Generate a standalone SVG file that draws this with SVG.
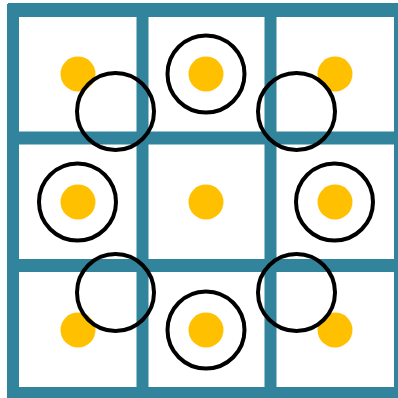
<svg xmlns="http://www.w3.org/2000/svg" width="398" height="398" viewBox="0 0 398 398">
<style>
.grid{stroke:#31849B;stroke-width:12;fill:none;stroke-linecap:butt}
.dot{fill:#FFC000}
.ring{fill:none;stroke:#000;stroke-width:4}
</style>
<rect x="0" y="0" width="398" height="398" fill="#fff"/>
<g id="grid" class="grid">
<line x1="13" y1="4" x2="13" y2="399"/>
<line x1="142.5" y1="4" x2="142.5" y2="399"/>
<line x1="270.5" y1="4" x2="270.5" y2="399"/>
<line x1="400" y1="3" x2="400" y2="399"/>
<line x1="8" y1="10" x2="400" y2="10" stroke-width="14"/>
<line x1="7" y1="138" x2="400" y2="138" stroke-width="13"/>
<line x1="7" y1="265.5" x2="400" y2="265.5" stroke-width="13"/>
<line x1="7" y1="393" x2="400" y2="393"/>
</g>
<g id="dots">
<circle class="dot" cx="78" cy="74" r="17.5"/>
<circle class="dot" cx="206" cy="74" r="17.5"/>
<circle class="dot" cx="335" cy="74" r="17.5"/>
<circle class="dot" cx="78" cy="202" r="17.5"/>
<circle class="dot" cx="206" cy="202" r="17.5"/>
<circle class="dot" cx="335" cy="202" r="17.5"/>
<circle class="dot" cx="78" cy="330" r="17.5"/>
<circle class="dot" cx="206" cy="330" r="17.5"/>
<circle class="dot" cx="335" cy="330" r="17.5"/>
</g>
<g id="rings">
<circle class="ring" cx="206" cy="74" r="38.5"/>
<circle class="ring" cx="296.5" cy="111.5" r="38.5"/>
<circle class="ring" cx="334.5" cy="202" r="38.5"/>
<circle class="ring" cx="296.5" cy="292.5" r="38.5"/>
<circle class="ring" cx="206" cy="330" r="38.5"/>
<circle class="ring" cx="115.5" cy="292.5" r="38.5"/>
<circle class="ring" cx="77.5" cy="202" r="38.5"/>
<circle class="ring" cx="115.5" cy="111.5" r="38.5"/>
</g>
</svg>
